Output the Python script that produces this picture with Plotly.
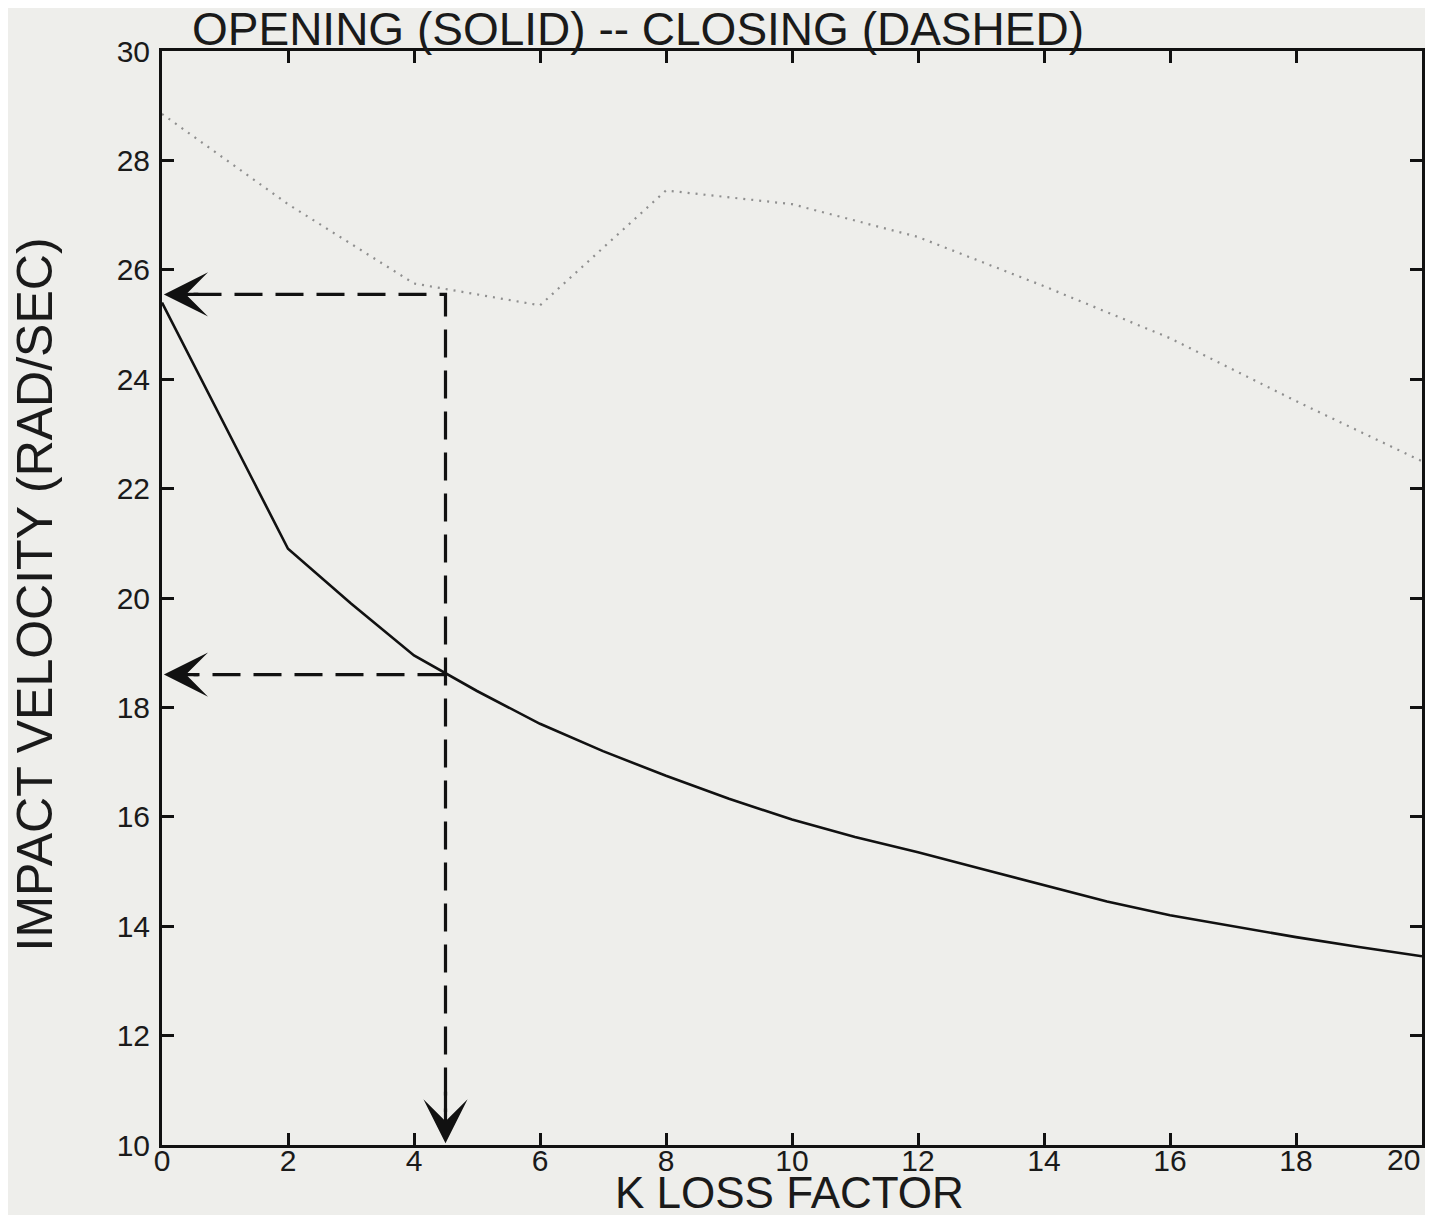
import plotly.graph_objects as go

# Opening (solid) curve
k_open = [0, 1, 2, 3, 4, 5, 6, 7, 8, 9, 10, 11, 12, 13, 14, 15, 16, 17, 18, 19, 20]
v_open = [25.4, 23.15, 20.9, 19.9, 18.95, 18.3, 17.7, 17.2, 16.75, 16.33, 15.95,
          15.63, 15.35, 15.05, 14.75, 14.45, 14.2, 14.0, 13.8, 13.62, 13.45]

# Closing (dashed / dotted) curve
k_close = [0, 2, 4, 6, 8, 10, 12, 14, 16, 18, 20]
v_close = [28.85, 27.2, 25.75, 25.35, 27.45, 27.2, 26.6, 25.7, 24.75, 23.6, 22.5]

# Reading guides
k_read = 4.5
v_read_close = 25.55
v_read_open = 18.6

x_ticks = [0, 2, 4, 6, 8, 10, 12, 14, 16, 18, 20]
x_ticktext = ["0", "2", "4", "6", "8", "10", "12", "14", "16", "18", "20"]
y_ticks = [10, 12, 14, 16, 18, 20, 22, 24, 26, 28, 30]
y_ticktext = ["10", "12", "14", "16", "18", "20", "22", "24", "26", "28", "30"]

FONT = "Liberation Sans"
BG = "#eeeeeb"
INK = "#1a1a1a"
TICK_SIZE = 30

fig = go.Figure()

fig.add_trace(go.Scatter(x=k_close, y=v_close, mode="lines",
                         line=dict(color="#8f8f8f", width=2.2, dash="2px,6px"),
                         showlegend=False, hoverinfo="skip"))
fig.add_trace(go.Scatter(x=k_open, y=v_open, mode="lines",
                         line=dict(color="#111111", width=2.6),
                         showlegend=False))

# dashed guide lines
fig.add_trace(go.Scatter(x=[0.5, k_read, k_read], y=[v_read_close, v_read_close, 10.6],
                         mode="lines", line=dict(color="#111111", width=3.2, dash="28px,13px"),
                         showlegend=False, hoverinfo="skip"))
fig.add_trace(go.Scatter(x=[k_read, 0.5], y=[v_read_open, v_read_open],
                         mode="lines", line=dict(color="#111111", width=3.2, dash="28px,13px"),
                         showlegend=False, hoverinfo="skip"))

arrow_common = dict(showarrow=True, arrowhead=3, arrowsize=2.3, arrowwidth=3.2,
                    arrowcolor="#111111", axref="x", ayref="y", text="")
fig.add_annotation(x=0.03, y=v_read_close, ax=0.6, ay=v_read_close, **arrow_common)
fig.add_annotation(x=0.03, y=v_read_open, ax=0.6, ay=v_read_open, **arrow_common)
fig.add_annotation(x=k_read, y=10.03, ax=k_read, ay=11.0, **arrow_common)

# titles
fig.add_annotation(text="OPENING (SOLID) -- CLOSING (DASHED)",
                   xref="paper", yref="paper", x=0.022, y=1.0205, xanchor="left", yanchor="middle",
                   showarrow=False, font=dict(family=FONT, size=46, color=INK))
fig.add_annotation(text="K LOSS FACTOR",
                   xref="paper", yref="paper", x=0.498, y=-0.043, xanchor="center", yanchor="middle",
                   showarrow=False, font=dict(family=FONT, size=44, color=INK))
fig.add_annotation(text="IMPACT VELOCITY (RAD/SEC)", textangle=-90,
                   xref="paper", yref="paper", x=-0.101, y=0.503, xanchor="center", yanchor="middle",
                   showarrow=False, font=dict(family=FONT, size=50, color=INK))

axis_common = dict(showline=True, linecolor="#111111", linewidth=3, mirror="ticks",
                   ticks="inside", ticklen=12, tickwidth=2.5, tickcolor="#111111",
                   showgrid=False, zeroline=False,
                   tickfont=dict(family=FONT, size=TICK_SIZE, color=INK))

# last x tick label drawn right-aligned at the plot edge (as in the original)
fig.update_xaxes(range=[0, 20], tickvals=x_ticks[:-1], ticktext=x_ticktext[:-1],
                 ticklabelstandoff=-13, **axis_common)
fig.add_annotation(text=x_ticktext[-1], x=x_ticks[-1], xref="x", yref="paper", y=-0.0135,
                   xanchor="right", yanchor="middle", showarrow=False,
                   font=dict(family=FONT, size=TICK_SIZE, color=INK))
fig.update_yaxes(range=[10, 30], tickvals=y_ticks, ticktext=y_ticktext,
                 ticklabelstandoff=3, **axis_common)

fig.update_layout(width=1417, height=1207,
                  margin=dict(l=154, r=3, t=43, b=70, autoexpand=False),
                  paper_bgcolor=BG, plot_bgcolor=BG, showlegend=False)

fig.write_html("out.html")
